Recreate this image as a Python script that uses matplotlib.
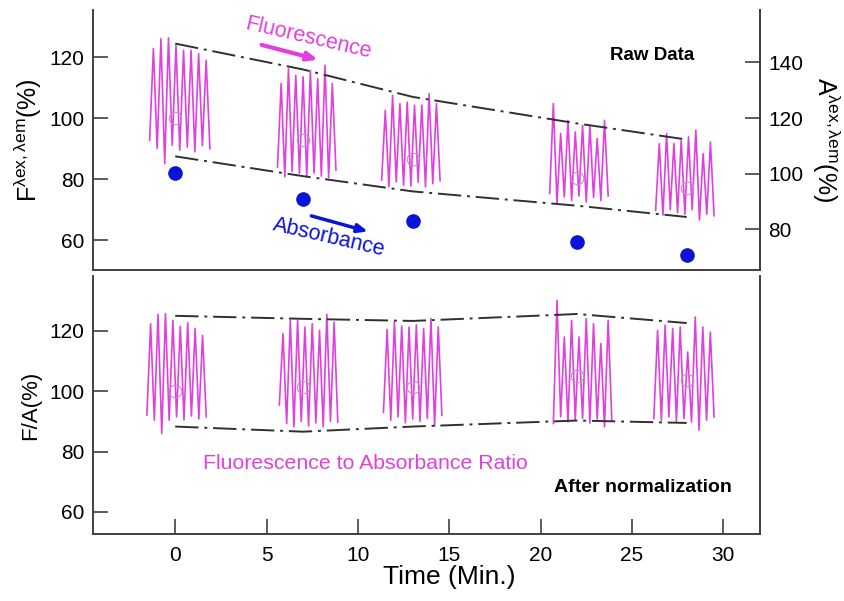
import matplotlib.pyplot as plt
import numpy as np

plt.rcParams['font.family'] = ['Liberation Sans', 'DejaVu Sans']
plt.rcParams['mathtext.fontset'] = 'custom'
plt.rcParams['mathtext.rm'] = 'Liberation Sans'
plt.rcParams['mathtext.it'] = 'Liberation Sans'
plt.rcParams['mathtext.default'] = 'regular'

# sample times (min)
times = [0, 7, 13, 22, 28]

# raw fluorescence bursts: (start, end) in min, peak tops and valley bottoms (%)
raw_spans = [(-1.4, 1.9), (5.6, 8.8), (11.3, 14.5), (20.5, 23.7), (26.3, 29.5)]
raw_peaks = [
    [122.9, 126.1, 126.4, 123.9, 122.3, 122.3, 121.2, 119.0],
    [111.4, 116.3, 114.1, 113.6, 115.7, 113.0, 117.4, 111.4],
    [102.6, 107.5, 104.8, 105.3, 104.3, 104.3, 108.1, 104.8],
    [104.8, 95.0, 99.3, 95.5, 97.7, 97.7, 93.3, 99.3],
    [91.7, 95.0, 91.7, 92.8, 93.9, 96.1, 88.4, 92.2],
]
raw_valleys = [
    [92.8, 90.1, 85.1, 91.1, 89.5, 90.5, 89.0, 91.0, 90.0],
    [84.0, 80.8, 82.5, 81.9, 80.8, 82.0, 81.0, 80.5, 83.0],
    [79.7, 77.5, 79.1, 78.0, 77.8, 79.0, 77.5, 78.5, 79.5],
    [75.3, 72.0, 74.2, 73.0, 74.5, 72.5, 74.0, 73.0, 74.5],
    [69.8, 68.2, 70.0, 69.0, 68.5, 70.0, 66.6, 68.5, 68.0],
]

# normalized F/A bursts
norm_spans = [(-1.55, 1.7), (5.7, 8.9), (11.4, 14.6), (20.7, 23.9), (26.2, 29.5)]
norm_peaks = [
    [122.4, 125.5, 125.7, 123.5, 121.5, 122.7, 120.8, 118.5],
    [119.1, 123.5, 123.5, 121.3, 122.4, 120.2, 125.5, 122.9],
    [120.5, 123.0, 121.6, 121.3, 122.0, 120.8, 124.1, 121.3],
    [130.1, 118.0, 123.5, 118.0, 124.1, 122.4, 115.8, 123.5],
    [120.2, 121.9, 120.8, 121.3, 113.0, 124.6, 121.3, 119.6],
]
norm_valleys = [
    [92.1, 90.4, 86.0, 90.4, 91.5, 90.5, 91.8, 90.8, 91.5],
    [95.4, 89.3, 88.2, 90.0, 88.5, 89.5, 88.2, 90.0, 89.8],
    [93.0, 90.4, 91.5, 89.5, 90.8, 90.0, 91.0, 88.5, 92.0],
    [89.3, 91.5, 89.8, 90.5, 91.0, 89.5, 90.8, 88.2, 90.5],
    [91.0, 90.4, 91.5, 90.0, 91.0, 89.8, 87.1, 90.4, 91.5],
]

raw_mean = [100, 93, 86.5, 80.3, 77]
norm_mean = [100, 101.3, 101.3, 105, 103.7]
absorbance = [100.4, 91, 83, 75.4, 70.7]

raw_upper = [124.5, 116, 107, 98.3, 93]
raw_lower = [87.5, 81, 76, 71.3, 67.6]
norm_upper = [125, 124, 123.3, 125.6, 122.6]
norm_lower = [88.3, 86.6, 88.3, 90.3, 89.5]

MAG = '#e040e0'
BLUE = '#0a14d8'
SPINE = '#404040'
DASHDOT = (12, 3, 1.5, 3)


def burst(span, peaks, valleys):
    vals = np.empty(len(peaks) + len(valleys))
    vals[0::2] = valleys
    vals[1::2] = peaks
    return np.linspace(span[0], span[1], len(vals)), vals


def style(ax):
    ax.spines['top'].set_visible(False)
    for s in ['left', 'right', 'bottom']:
        ax.spines[s].set_color(SPINE)
        ax.spines[s].set_linewidth(1.4)
    ax.tick_params(direction='in', length=11, width=1.2, color=SPINE,
                   labelsize=15, pad=6)


fig = plt.figure(figsize=(8.44, 6.01), dpi=100)
ax1 = fig.add_axes([0.1102, 0.5507, 0.790, 0.4326])
ax2 = fig.add_axes([0.1102, 0.1115, 0.790, 0.4293])

# top panel
for span, pk, vl in zip(raw_spans, raw_peaks, raw_valleys):
    x, y = burst(span, pk, vl)
    ax1.plot(x, y, color=MAG, lw=1.2)
ax1.plot(times, raw_upper, color='#303030', lw=1.4, dashes=DASHDOT)
ax1.plot(times, raw_lower, color='#303030', lw=1.4, dashes=DASHDOT)
ax1.plot(times, raw_mean, 'o', ms=9, mfc='none', mec='#c090c0', mew=0.8, ls='none')
ax1.set_xlim(-4.5, 32)
ax1.set_ylim(50.2, 135.5)
ax1.set_yticks([60, 80, 100, 120])
ax1.set_xticks([])
style(ax1)
ax1.set_ylabel(r'F$^{\lambda ex,\lambda em}$(%)', fontsize=18, labelpad=4)

ax1r = ax1.twinx()
ax1r.plot(times, absorbance, 'o', color=BLUE, ms=9.5, ls='none')
ax1r.set_ylim(65.4, 158.8)
ax1r.set_yticks([80, 100, 120, 140])
style(ax1r)
ax1r.spines['left'].set_visible(False)
ax1r.spines['bottom'].set_visible(False)
ax1r.set_ylabel(r'A$^{\lambda ex,\lambda em}$(%)', fontsize=18, rotation=270, labelpad=28)

ax1.annotate('', xy=(7.97, 119.0), xytext=(4.58, 124.3),
             arrowprops=dict(arrowstyle='-|>,head_length=0.6,head_width=0.25',
                             color=MAG, lw=3))
ax1.text(7.3, 126.2, 'Fluorescence', color=MAG, fontsize=15.5, rotation=-13,
         ha='center', va='center')
ax1.annotate('', xy=(10.7, 62.6), xytext=(7.31, 68.2),
             arrowprops=dict(arrowstyle='-|>,head_length=0.6,head_width=0.25',
                             color=BLUE, lw=2.5))
ax1.text(8.4, 61.0, 'Absorbance', color=BLUE, fontsize=15.5, rotation=-13,
         ha='center', va='center')
ax1.text(26.1, 120.7, 'Raw Data', fontsize=13.5, fontweight='bold',
         ha='center', va='center')

# bottom panel
for span, pk, vl in zip(norm_spans, norm_peaks, norm_valleys):
    x, y = burst(span, pk, vl)
    ax2.plot(x, y, color=MAG, lw=1.2)
ax2.plot(times, norm_upper, color='#303030', lw=1.4, dashes=DASHDOT)
ax2.plot(times, norm_lower, color='#303030', lw=1.4, dashes=DASHDOT)
ax2.plot(times, norm_mean, 'o', ms=9, mfc='none', mec='#c090c0', mew=0.8, ls='none')
ax2.set_xlim(-4.5, 32)
ax2.set_ylim(52.7, 138.2)
ax2.set_yticks([60, 80, 100, 120])
ax2.set_xticks([0, 5, 10, 15, 20, 25, 30])
style(ax2)
ax2.tick_params(axis='y', right=False)
ax2.tick_params(axis='x', pad=9, labelsize=15)
ax2.set_ylabel('F/A(%)', fontsize=16, labelpad=6)
ax2.set_xlabel('Time (Min.)', fontsize=19)
ax2.xaxis.set_label_coords(0.534, -0.12)
ax2.text(10.4, 76.1, 'Fluorescence to Absorbance Ratio', color=MAG, fontsize=15.3,
         ha='center', va='center')
ax2.text(25.6, 68.2, 'After normalization', fontsize=14, fontweight='bold',
         ha='center', va='center')

fig.savefig('out.png', dpi=100)
